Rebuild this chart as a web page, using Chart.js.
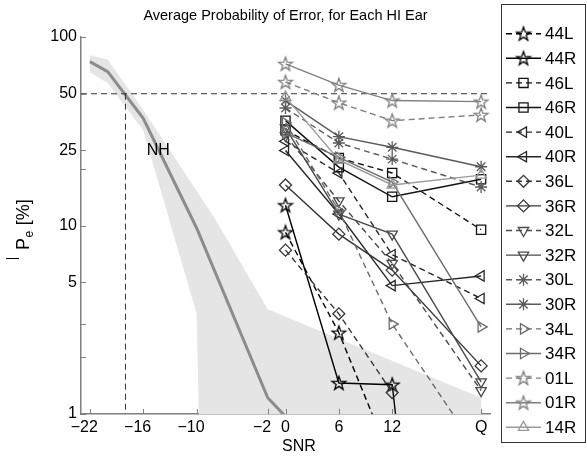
<!DOCTYPE html>
<html><head><meta charset="utf-8">
<script src="https://cdn.jsdelivr.net/npm/chart.js@4.4.0/dist/chart.umd.min.js"></script>
<style>html,body{margin:0;padding:0;background:#fff;}</style>
</head><body>
<canvas id="c" width="587" height="457"></canvas>
<script>
// ---------- data ----------
const snrLevels = [0, 6, 12, 22];            // 22 is drawn as "Q" (quiet)
const xTickValues = [-22, -16, -10, -2, 0, 6, 12, 22];
const xTickLabels = ['\u221222', '\u221216', '\u221210', '\u22122', '0', '6', '12', 'Q'];
const yTickValues = [1, 2, 3, 5, 10, 20, 25, 50, 100];
const yTickLabels = ['1', '', '', '5', '10', '', '25', '50', '100'];

const nhSnr = [-22, -20, -16, -10, -2, 0, 2];
const nhPe = [74, 65.5, 37, 9.7, 1.22, 0.97, 0.75];
const nhUpperSnr = [-22, -20, -16, -8, -2, 22];
const nhUpperPe = [80, 76, 41, 11, 3.6, 1.22];
const nhLowerSnr = [22, -9.6, -10, -16, -20, -22];
const nhLowerPe = [0.5, 0.5, 3.4, 32, 57, 65];

const earNames = ['44L','44R','46L','46R','40L','40R','36L','36R','32L','32R','30L','30R','34L','34R','01L','01R','14R'];
const pe44L = [9.2, 2.7, 0.55, null];
const pe44R = [12.8, 1.46, 1.43, 0.0001];
const pe46L = [32, 22.8, 19, 9.5];
const pe46R = [36, 20.4, 14.2, 17.6];
const pe40L = [28, 19, 7.0, 4.1];
const pe40R = [25, 11.5, 4.8, 5.4];
const pe36L = [7.4, 3.4, 1.3, null];
const pe36R = [16.4, 9, 5.8, 1.8];
const pe32L = [30, 13.5, 6.3, 1.33];
const pe32R = [33, 11.5, 9.0, 1.48];
const pe30L = [42, 27.4, 22.5, 16];
const pe30R = [46, 29.6, 26, 20.5];
const pe34L = [35, 12, 3.0, 0.6];
const pe34R = [31, 23, 17, 2.9];
const pe01L = [57.7, 44.8, 36, 38.6];
const pe01R = [72, 55.6, 46, 45.4];
const pe14R = [48, 22.3, 16.4, 18.5];
const earValues = [pe44L,pe44R,pe46L,pe46R,pe40L,pe40R,pe36L,pe36R,pe32L,pe32R,pe30L,pe30R,pe34L,pe34R,pe01L,pe01R,pe14R];

// ---------- styles ----------
const groupColor = {'44':'#000000','46':'#111111','40':'#262626','36':'#363636','32':'#4a4a4a','30':'#5a5a5a','34':'#6c6c6c','01':'#7f7f7f','14':'#9a9a9a'};
const groupMarker = {'44':['pent',0],'46':['rect',0],'40':['triangle',270],'36':['rectRot',0],'32':['triangle',180],'30':['star',0],'34':['triangle',90],'01':['pent',0],'14':['triangle',0]};

function starCanvas(color){
  const s = 18, c = document.createElement('canvas');
  c.width = s; c.height = s;
  const g = c.getContext('2d');
  g.strokeStyle = color; g.lineWidth = 1.3; g.lineJoin = 'miter';
  g.beginPath();
  for (let k = 0; k < 10; k++) {
    const r = k % 2 ? 2.9 : 7.2;
    const a = -Math.PI / 2 + k * Math.PI / 5;
    const px = s / 2 + r * Math.cos(a), py = s / 2 + 0.5 + r * Math.sin(a);
    if (k) g.lineTo(px, py); else g.moveTo(px, py);
  }
  g.closePath(); g.stroke();
  return c;
}

const earDatasets = earNames.map((name, i) => {
  const grp = name.slice(0, 2);
  const color = groupColor[grp];
  const dashed = name.endsWith('L');
  let [style, rot] = groupMarker[grp];
  let ps = style === 'pent' ? starCanvas(color) : style;
  const radius = style === 'rect' ? 6.5 : 6;
  return {
    label: name,
    data: snrLevels.map((x, j) => ({x: x, y: earValues[i][j]})),
    borderColor: color,
    backgroundColor: 'rgba(0,0,0,0)',
    borderWidth: 1.4,
    borderDash: dashed ? [6, 4] : [],
    pointStyle: ps,
    pointRotation: rot,
    pointRadius: radius,
    pointBorderWidth: 1.3,
    pointBorderColor: color,
    pointBackgroundColor: 'rgba(0,0,0,0)',
    fill: false,
    tension: 0,
    order: 50 - i,
    _dashed: dashed
  };
});

const bandData = nhUpperSnr.map((x, i) => ({x, y: nhUpperPe[i]}))
  .concat(nhLowerSnr.map((x, i) => ({x, y: nhLowerPe[i]})));

const datasets = [
  ...earDatasets,
  { label: 'ref50', data: [{x: -23, y: 50}, {x: 23, y: 50}], borderColor: '#333', borderWidth: 1, borderDash: [6, 4], pointRadius: 0, fill: false, order: 98 },
  { label: 'refNH', data: [{x: -18, y: 50}, {x: -18, y: 0.5}], borderColor: '#333', borderWidth: 1, borderDash: [6, 4], pointRadius: 0, fill: false, order: 98 },
  { label: 'NH', data: nhSnr.map((x, i) => ({x, y: nhPe[i]})), borderColor: '#8c8c8c', borderWidth: 3, pointRadius: 0, fill: false, order: 99 },
  { label: 'NHband', data: bandData, borderColor: 'rgba(0,0,0,0)', borderWidth: 0, backgroundColor: '#e5e5e5', pointRadius: 0, fill: 'shape', order: 100 }
];

const FONT = '"Liberation Sans", Arial, Helvetica, sans-serif';

const decor = {
  id: 'decor',
  afterDraw(chart) {
    const ctx = chart.ctx;
    const {left, right, top, bottom} = chart.chartArea;
    const xs = chart.scales.x, ys = chart.scales.y;
    ctx.save();
    // inward tick marks
    ctx.strokeStyle = '#808080'; ctx.lineWidth = 1;
    yTickValues.forEach(v => { const p = Math.round(ys.getPixelForValue(v)) + 0.5; ctx.beginPath(); ctx.moveTo(left, p); ctx.lineTo(left + 5, p); ctx.stroke(); });
    xTickValues.forEach(v => { const p = Math.round(xs.getPixelForValue(v)) + 0.5; ctx.beginPath(); ctx.moveTo(p, bottom); ctx.lineTo(p, bottom - 5); ctx.stroke(); });
    // NH label
    ctx.fillStyle = '#000';
    ctx.font = '16px ' + FONT; ctx.textAlign = 'center'; ctx.textBaseline = 'middle';
    ctx.fillText('NH', xs.getPixelForValue(-14.3), ys.getPixelForValue(25));
    // title
    ctx.font = '14.5px ' + FONT;
    ctx.fillText('Average Probability of Error, for Each HI Ear', (left + right) / 2, 16);
    // x title
    ctx.font = '16px ' + FONT;
    ctx.fillText('SNR', 299, 447);
    // y title (rotated)
    ctx.save();
    ctx.translate(29, 250);
    ctx.rotate(-Math.PI / 2);
    ctx.textAlign = 'left'; ctx.textBaseline = 'alphabetic';
    ctx.font = '18px ' + FONT;
    ctx.fillText('P', 0, 0);
    const wP = ctx.measureText('P').width;
    ctx.font = '12px ' + FONT;
    ctx.fillText('e', wP + 0.5, 4);
    const we = ctx.measureText('e').width;
    ctx.font = '18px ' + FONT;
    ctx.fillText(' [%]', wP + we + 1, 0);
    ctx.restore();
    // overline mark of the mean symbol
    ctx.strokeStyle = '#000'; ctx.lineWidth = 1;
    ctx.beginPath(); ctx.moveTo(6, 258.5); ctx.lineTo(19, 258.5); ctx.stroke();
    // legend
    const lx0 = 501.5, ly0 = 4.5, lx1 = 585.5, ly1 = 442.5;
    ctx.strokeStyle = '#333'; ctx.lineWidth = 1;
    ctx.fillStyle = '#fff';
    ctx.fillRect(lx0, ly0, lx1 - lx0, ly1 - ly0);
    ctx.strokeRect(lx0, ly0, lx1 - lx0, ly1 - ly0);
    earDatasets.forEach((d, i) => {
      const y = 33.7 + 24.6 * i;
      ctx.save();
      ctx.strokeStyle = d.borderColor; ctx.lineWidth = 1.4;
      ctx.setLineDash(d._dashed ? [6, 4] : []);
      ctx.beginPath(); ctx.moveTo(506, y); ctx.lineTo(541, y); ctx.stroke();
      ctx.setLineDash([]);
      ctx.fillStyle = 'rgba(0,0,0,0)';
      ctx.strokeStyle = d.borderColor; ctx.lineWidth = 1.3;
      Chart.helpers.drawPoint(ctx, {pointStyle: d.pointStyle, rotation: d.pointRotation, radius: d.pointRadius, borderWidth: 1.3}, 523.5, y);
      ctx.restore();
      ctx.fillStyle = '#000';
      ctx.font = '17px ' + FONT; ctx.textAlign = 'left'; ctx.textBaseline = 'middle';
      ctx.fillText(d.label, 545, y + 1);
    });
    ctx.restore();
  }
};

new Chart(document.getElementById('c'), {
  type: 'line',
  data: { datasets },
  options: {
    responsive: false,
    animation: false,
    layout: { padding: { left: 0, top: 37, right: 97, bottom: 0 } },
    plugins: { legend: { display: false }, tooltip: { enabled: false }, title: { display: false } },
    scales: {
      x: {
        type: 'linear', min: -23, max: 23,
        afterFit(s) { s.height = 43; },
        afterBuildTicks(s) { s.ticks = xTickValues.map(v => ({value: v})); },
        ticks: {
          autoSkip: false, maxRotation: 0, padding: 4, color: '#000',
          font: { family: FONT, size: 16 },
          callback(v) { const k = xTickValues.indexOf(v); const t = k >= 0 ? xTickLabels[k] : ''; return v < 0 ? t + '\u2002\u2009' : t; }
        },
        grid: { drawOnChartArea: false, drawTicks: false },
        border: { display: true, color: '#808080', width: 1.5 }
      },
      y: {
        type: 'logarithmic', min: 1, max: 100,
        afterFit(s) { s.width = 81; },
        afterBuildTicks(s) { s.ticks = yTickValues.map(v => ({value: v})); },
        ticks: {
          autoSkip: false, padding: 4, color: '#000',
          font: { family: FONT, size: 16 },
          callback(v) { const k = yTickValues.indexOf(v); return k >= 0 ? yTickLabels[k] : ''; }
        },
        grid: { drawOnChartArea: false, drawTicks: false },
        border: { display: true, color: '#808080', width: 1.5 }
      }
    }
  },
  plugins: [decor]
});
</script>
</body></html>
